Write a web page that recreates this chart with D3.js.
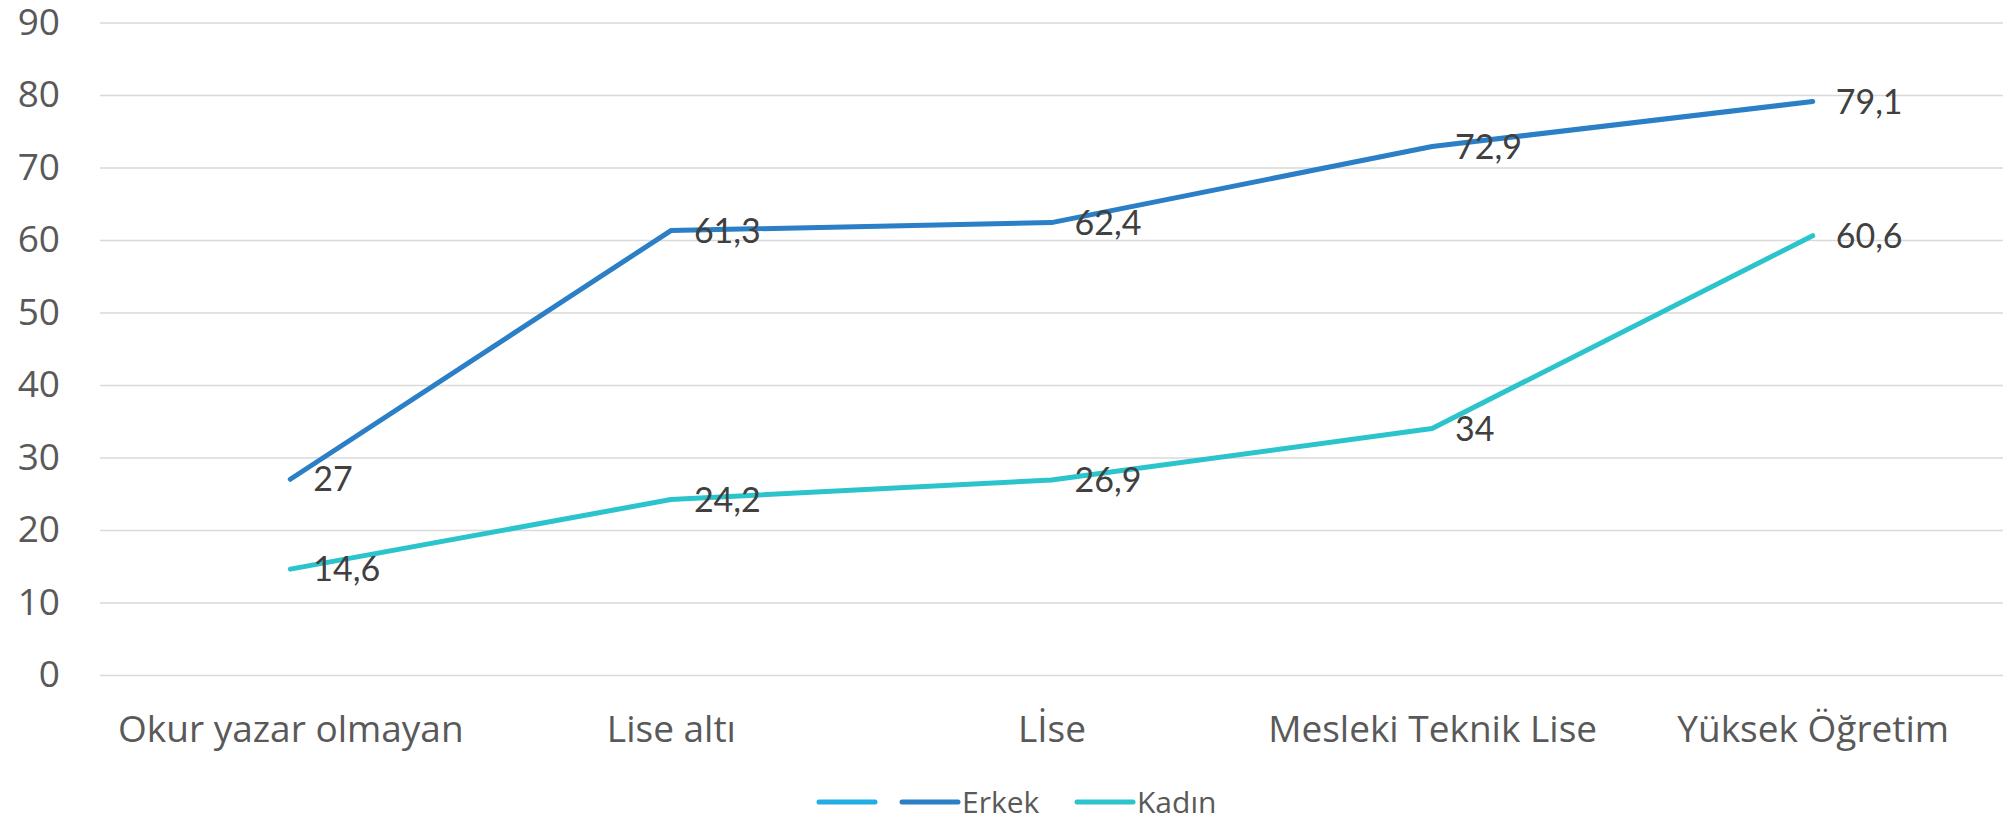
<!DOCTYPE html>
<html>
<head>
<meta charset="utf-8">
<script src="https://cdn.jsdelivr.net/npm/d3@7"></script>
<style>
  body { margin: 0; background: #fff; }
  .yaxis text, .xaxis text { font-family: "Open Sans", sans-serif; fill: #595959; }
  .yaxis text { font-size: 37px; }
  .xaxis text { font-size: 37px; }
  .grid line { stroke: #d9d9d9; stroke-width: 1.3px; }
  .vlabel { font-family: Lato, sans-serif; font-size: 34px; fill: #404040; }
  .legend text { font-family: "Open Sans", sans-serif; font-size: 30px; fill: #595959; }
</style>
</head>
<body>
<svg id="chart"></svg>
<script>
// categories on the x axis
var categories = ["Okur yazar olmayan", "Lise altı", "Lİse", "Mesleki Teknik Lise", "Yüksek Öğretim"];
// series values
var erkek = [27, 61.3, 62.4, 72.9, 79.1];
var kadin = [14.6, 24.2, 26.9, 34, 60.6];
// y tick labels
var yTicks = [0, 10, 20, 30, 40, 50, 60, 70, 80, 90];
// legend entries (first one has no name in the source)
var seriesNames = ["", "Erkek", "Kadın"];
var seriesColors = ["#22ade6", "#2a7fc7", "#2cc4cc"];

var screen = { width: 2003, height: 820 };
var plot = { left: 100, right: 2003, top: 22.5, bottom: 675 };

var svg = d3.select("#chart").attr("width", screen.width).attr("height", screen.height);

var xScale = d3.scalePoint().domain(categories).range([plot.left, plot.right]).padding(0.5);
var yScale = d3.scaleLinear().domain([0, 90]).range([plot.bottom, plot.top]);

//gridlines + y labels
var yAxis = d3.axisLeft(yScale)
  .tickValues(yTicks)
  .tickSize(-(plot.right - plot.left))
  .tickPadding(40);

svg.append("g")
  .classed("yaxis grid", true)
  .attr("transform", "translate(" + plot.left + ",0)")
  .call(yAxis)
  .call(function (g) { g.select(".domain").remove(); });

var xAxis = d3.axisBottom(xScale).tickSize(0).tickPadding(41);

svg.append("g")
  .classed("xaxis", true)
  .attr("transform", "translate(0," + plot.bottom + ")")
  .call(xAxis)
  .call(function (g) { g.select(".domain").remove(); });

var fmt = function (v) {
  return String(v).replace(".", ",");
};

var drawSeries = function (values, color) {
  var pts = values.map(function (v, i) { return { cat: categories[i], v: v }; });
  var line = d3.line()
    .x(function (d) { return xScale(d.cat); })
    .y(function (d) { return yScale(d.v); });

  svg.append("path")
    .datum(pts)
    .attr("d", line)
    .attr("fill", "none")
    .attr("stroke", color)
    .attr("stroke-width", 5)
    .attr("stroke-linecap", "round")
    .attr("stroke-linejoin", "round");

  svg.append("g")
    .selectAll("text")
    .data(pts)
    .enter()
    .append("text")
    .classed("vlabel", true)
    .attr("x", function (d) { return xScale(d.cat) + 23; })
    .attr("y", function (d) { return yScale(d.v); })
    .attr("dy", "0.36em")
    .text(function (d) { return fmt(d.v); });
};

drawSeries(erkek, seriesColors[1]);
drawSeries(kadin, seriesColors[2]);

// legend
var legendX = [819, 902, 1077];
var legend = svg.append("g").classed("legend", true);
seriesNames.forEach(function (name, i) {
  legend.append("line")
    .attr("x1", legendX[i]).attr("x2", legendX[i] + 56)
    .attr("y1", 802).attr("y2", 802)
    .attr("stroke", seriesColors[i])
    .attr("stroke-width", 5)
    .attr("stroke-linecap", "round");
  if (name) {
    legend.append("text")
      .attr("x", legendX[i] + 60)
      .attr("y", 802)
      .attr("dy", "0.36em")
      .text(name);
  }
});
</script>
</body>
</html>
